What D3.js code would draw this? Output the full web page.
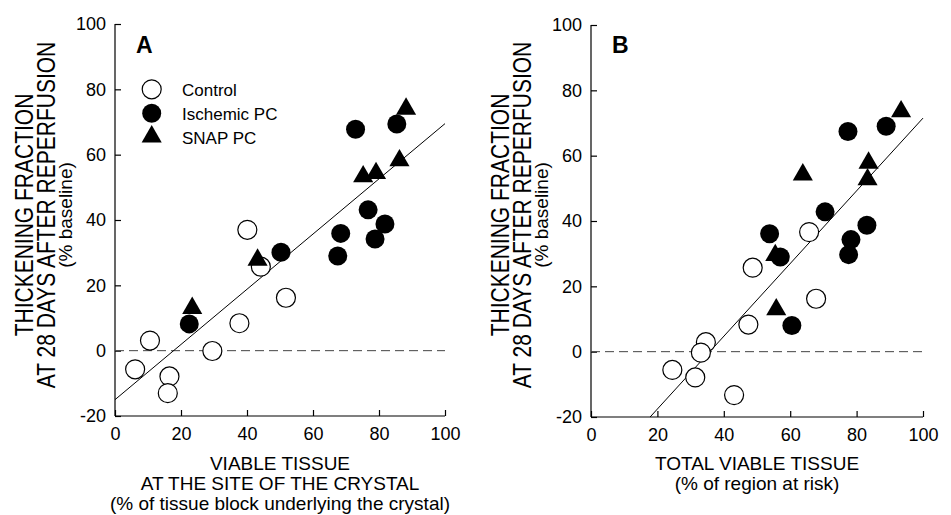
<!DOCTYPE html>
<meta charset='utf-8'>
<html>
<head>
    <script src="https://cdn.jsdelivr.net/npm/d3@7/dist/d3.min.js"></script>
    <style>
        body { margin: 0; padding: 0; background: #fff; }
        svg text { font-family: "Liberation Sans", Arial, sans-serif; fill: #000; }
    </style>
</head>
<body>
    <svg id="chart" width="951" height="515"></svg>
    <script>
        // axis ticks
        const xTicks = [0, 20, 40, 60, 80, 100];
        const yTicks = [-20, 0, 20, 40, 60, 80, 100];

        // panel A : viable tissue at the site of the crystal
        const controlA = [[40.1, 37], [44.2, 25.7], [51.8, 16.2], [37.7, 8.4], [29.5, -0.1], [10.6, 3.1], [6.1, -5.7], [16.5, -7.9], [16, -13]];
        const ischemicA = [[50.3, 30.1], [68.4, 35.9], [67.5, 29], [72.9, 67.8], [85.4, 69.4], [76.7, 43.1], [81.8, 38.8], [78.8, 34.2], [22.5, 8.2]];
        const snapA = [[88.2, 74], [75.2, 53.3], [79.1, 54.3], [86.2, 58.2], [43.2, 27.8], [23.4, 13]];
        const fitA = [[0, -15], [100, 69.5]];

        // panel B : total viable tissue
        const controlB = [[65.7, 36.6], [48.7, 25.7], [67.8, 16.2], [47.4, 8.3], [34.6, 2.9], [33.1, -0.3], [24.5, -5.6], [31.4, -7.9], [43.1, -13.3]];
        const ischemicB = [[88.9, 69], [77.4, 67.4], [70.5, 42.8], [83.1, 38.7], [53.8, 36.1], [78.3, 34.3], [77.6, 29.7], [57, 29], [60.5, 8]];
        const snapB = [[93.4, 73.5], [63.8, 54.2], [83.6, 57.8], [83.3, 52.7], [55.5, 29.5], [55.8, 12.9]];
        const fitB = [[17.8, -20], [100, 71.5]];

        const yTitle = ["THICKENING FRACTION", "AT 28 DAYS AFTER REPERFUSION", "(% baseline)"];
        const legendLabels = ["Control", "Ischemic PC", "SNAP PC"];

        const svg = d3.select("#chart");
        const tri = d3.symbol().type(d3.symbolTriangle).size(175);

        function drawMarkers(g, x, y, control, ischemic, snap) {
            g.selectAll(".ctl").data(control).enter().append("circle")
                .attr("cx", d => x(d[0])).attr("cy", d => y(d[1])).attr("r", 9.5)
                .attr("fill", "#fff").attr("stroke", "#000").attr("stroke-width", 1.2);
            g.selectAll(".isc").data(ischemic).enter().append("circle")
                .attr("cx", d => x(d[0])).attr("cy", d => y(d[1])).attr("r", 9.5)
                .attr("fill", "#000");
            g.selectAll(".snap").data(snap).enter().append("path")
                .attr("d", tri)
                .attr("transform", d => "translate(" + x(d[0]) + "," + y(d[1]) + ")")
                .attr("fill", "#000");
        }

        function drawPanel(p) {
            const x = d3.scaleLinear().domain([0, 100]).range([p.left, p.right]);
            const y = d3.scaleLinear().domain([-20, 100]).range([p.bottom, p.top]);
            const g = svg.append("g");

            // axes, ticks point inward
            g.append("g").attr("transform", "translate(" + p.left + ",0)")
                .call(d3.axisLeft(y).tickValues(yTicks).tickFormat(d => String(d)).tickSize(-6).tickPadding(9))
                .call(a => a.select(".domain").attr("d", "M0," + p.top + "V" + p.bottom));
            g.append("g").attr("transform", "translate(0," + p.bottom + ")")
                .call(d3.axisBottom(x).tickValues(xTicks).tickSize(-6).tickPadding(11))
                .call(a => a.select(".domain").attr("d", "M" + p.left + ",0H" + p.right));
            g.selectAll(".tick text").style("font-size", "18px");
            g.selectAll(".domain, .tick line").attr("stroke", "#000").attr("stroke-width", 1.2);

            // zero line
            g.append("line")
                .attr("x1", x(0)).attr("x2", x(100)).attr("y1", y(0)).attr("y2", y(0))
                .attr("stroke", "#444").attr("stroke-width", 1).attr("stroke-dasharray", "9,5");

            // regression line
            g.append("path").datum(p.fit)
                .attr("d", d3.line().x(d => x(d[0])).y(d => y(d[1])))
                .attr("stroke", "#000").attr("stroke-width", 1).attr("fill", "none");

            drawMarkers(g, x, y, p.control, p.ischemic, p.snap);

            // panel letter
            g.append("text").attr("x", p.left + 21).attr("y", 53)
                .style("font-size", "23px").style("font-weight", "bold").text(p.letter);

            // y title, first two lines look condensed
            const yc = 215;
            const offs = [-82, -60, -43];
            yTitle.forEach((t, i) => {
                const sx = i < 2 ? 1.2 : 1;
                g.append("text")
                    .attr("transform", "translate(" + (p.left + offs[i]) + "," + yc + ") scale(" + sx + ",1) rotate(-90)")
                    .attr("text-anchor", "middle")
                    .style("font-size", i < 2 ? "21px" : "19px")
                    .text(t);
            });

            // x title
            const xc = (p.left + p.right) / 2;
            p.xTitle.forEach((t, i) => {
                g.append("text").attr("x", xc).attr("y", 470 + i * 20)
                    .attr("text-anchor", "middle").style("font-size", "19px").text(t);
            });
        }

        drawPanel({
            left: 115, right: 445, top: 24, bottom: 416, letter: "A",
            control: controlA, ischemic: ischemicA, snap: snapA, fit: fitA,
            xTitle: ["VIABLE TISSUE", "AT THE SITE OF THE CRYSTAL", "(% of tissue block underlying the crystal)"]
        });
        drawPanel({
            left: 591, right: 923, top: 25, bottom: 417, letter: "B",
            control: controlB, ischemic: ischemicB, snap: snapB, fit: fitB,
            xTitle: ["TOTAL VIABLE TISSUE", "(% of region at risk)"]
        });

        // legend (panel A)
        const leg = svg.append("g");
        const legY = [89.3, 113.3, 136.7];
        leg.append("circle").attr("cx", 151.7).attr("cy", legY[0]).attr("r", 9.5)
            .attr("fill", "#fff").attr("stroke", "#000").attr("stroke-width", 1.2);
        leg.append("circle").attr("cx", 151.7).attr("cy", legY[1]).attr("r", 9.5).attr("fill", "#000");
        leg.append("path").attr("d", tri).attr("transform", "translate(151.7," + legY[2] + ")").attr("fill", "#000");
        legendLabels.forEach((t, i) => {
            leg.append("text").attr("x", 182).attr("y", legY[i] + 7)
                .style("font-size", "17px").text(t);
        });
    </script>
</body>
</html>
